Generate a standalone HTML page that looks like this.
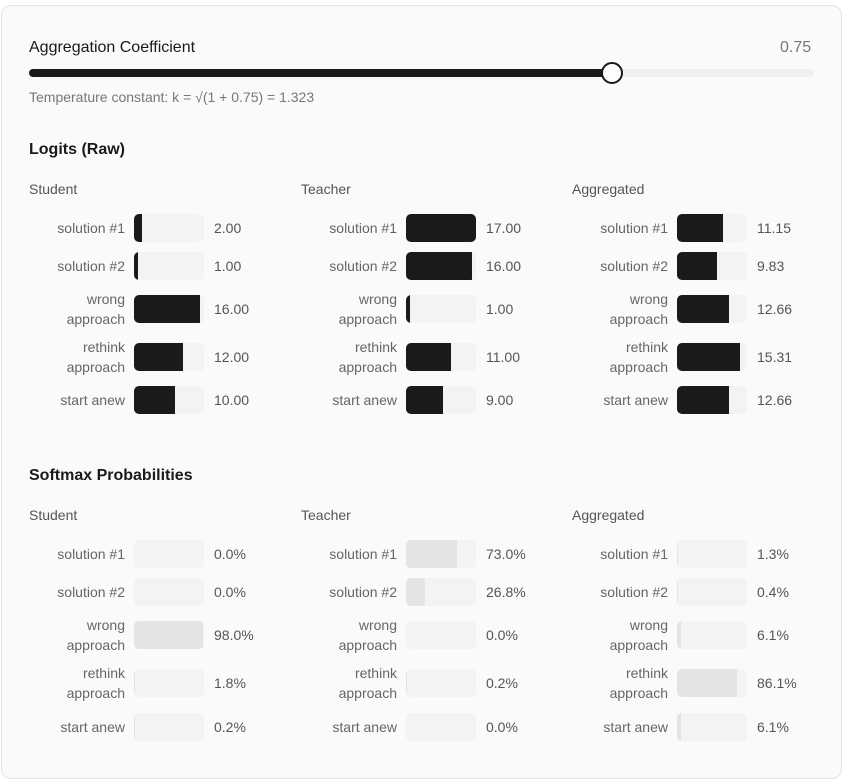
<!DOCTYPE html>
<html><head><meta charset="utf-8"><style>
*{margin:0;padding:0;box-sizing:border-box}
body{width:843px;height:783px;background:#fff;font-family:"Liberation Sans",sans-serif;position:relative;overflow:hidden}
.card{position:absolute;left:1px;top:5px;width:841px;height:774px;background:#fafafa;border:1px solid #e4e4e4;border-radius:10px}
.t{position:absolute;white-space:nowrap}
.r{position:absolute;height:28px;width:260px}
.l{position:absolute;left:0;width:96px;height:28px;display:flex;align-items:center;justify-content:flex-end;text-align:right;font-size:14px;line-height:20px;color:#666}
.b{position:absolute;left:105px;top:0;width:70px;height:28px;background:#f3f3f3;border-radius:5px;overflow:hidden}
.b i{position:absolute;left:0;top:0;bottom:0;background:#1a1a1a;min-width:1px}
.p i{background:#e4e4e4}
.v{position:absolute;left:185px;top:0;height:28px;line-height:28px;font-size:14px;color:#555}
.h{font-size:14px;color:#555}
.s{font-size:16px;font-weight:bold;color:#1a1a1a}
</style></head><body>
<div class="card"></div>
<div class="t" style="left:29px;top:39px;font-size:16px;color:#1a1a1a">Aggregation Coefficient</div>
<div class="t" style="left:780px;top:39px;font-size:16px;color:#777">0.75</div>
<div style="position:absolute;left:29px;top:69px;width:785px;height:8px;background:#f1f1f1;border-radius:4px"></div>
<div style="position:absolute;left:29px;top:69px;width:585px;height:8px;background:#1a1a1a;border-radius:4px"></div>
<div style="position:absolute;left:601px;top:62px;width:22px;height:22px;background:#fff;border:2px solid #1a1a1a;border-radius:50%"></div>
<div class="t" style="left:29px;top:89px;font-size:14px;color:#777">Temperature constant: k = √(1 + 0.75) = 1.323</div>

<div class="t s" style="left:29px;top:141px">Logits (Raw)</div>
<div class="t h" style="left:29px;top:181px">Student</div>
<div class="t h" style="left:301px;top:181px">Teacher</div>
<div class="t h" style="left:572px;top:181px">Aggregated</div>

<div class="r" style="left:29px;top:214px"><div class="l">solution #1</div><div class="b"><i style="width:8px"></i></div><div class="v">2.00</div></div>
<div class="r" style="left:29px;top:252px"><div class="l">solution #2</div><div class="b"><i style="width:4px"></i></div><div class="v">1.00</div></div>
<div class="r" style="left:29px;top:295px"><div class="l">wrong<br>approach</div><div class="b"><i style="width:66px"></i></div><div class="v">16.00</div></div>
<div class="r" style="left:29px;top:343px"><div class="l">rethink<br>approach</div><div class="b"><i style="width:49px"></i></div><div class="v">12.00</div></div>
<div class="r" style="left:29px;top:386px"><div class="l">start anew</div><div class="b"><i style="width:41px"></i></div><div class="v">10.00</div></div>

<div class="r" style="left:301px;top:214px"><div class="l">solution #1</div><div class="b"><i style="width:70px"></i></div><div class="v">17.00</div></div>
<div class="r" style="left:301px;top:252px"><div class="l">solution #2</div><div class="b"><i style="width:66px"></i></div><div class="v">16.00</div></div>
<div class="r" style="left:301px;top:295px"><div class="l">wrong<br>approach</div><div class="b"><i style="width:4px"></i></div><div class="v">1.00</div></div>
<div class="r" style="left:301px;top:343px"><div class="l">rethink<br>approach</div><div class="b"><i style="width:45px"></i></div><div class="v">11.00</div></div>
<div class="r" style="left:301px;top:386px"><div class="l">start anew</div><div class="b"><i style="width:37px"></i></div><div class="v">9.00</div></div>

<div class="r" style="left:572px;top:214px"><div class="l">solution #1</div><div class="b"><i style="width:46px"></i></div><div class="v">11.15</div></div>
<div class="r" style="left:572px;top:252px"><div class="l">solution #2</div><div class="b"><i style="width:40px"></i></div><div class="v">9.83</div></div>
<div class="r" style="left:572px;top:295px"><div class="l">wrong<br>approach</div><div class="b"><i style="width:52px"></i></div><div class="v">12.66</div></div>
<div class="r" style="left:572px;top:343px"><div class="l">rethink<br>approach</div><div class="b"><i style="width:63px"></i></div><div class="v">15.31</div></div>
<div class="r" style="left:572px;top:386px"><div class="l">start anew</div><div class="b"><i style="width:52px"></i></div><div class="v">12.66</div></div>

<div class="t s" style="left:29px;top:467px">Softmax Probabilities</div>
<div class="t h" style="left:29px;top:507px">Student</div>
<div class="t h" style="left:301px;top:507px">Teacher</div>
<div class="t h" style="left:572px;top:507px">Aggregated</div>

<div class="r" style="left:29px;top:540px"><div class="l">solution #1</div><div class="b p"><i style="width:0;min-width:0"></i></div><div class="v">0.0%</div></div>
<div class="r" style="left:29px;top:578px"><div class="l">solution #2</div><div class="b p"><i style="width:0;min-width:0"></i></div><div class="v">0.0%</div></div>
<div class="r" style="left:29px;top:621px"><div class="l">wrong<br>approach</div><div class="b p"><i style="width:69px"></i></div><div class="v">98.0%</div></div>
<div class="r" style="left:29px;top:669px"><div class="l">rethink<br>approach</div><div class="b p"><i style="width:1px"></i></div><div class="v">1.8%</div></div>
<div class="r" style="left:29px;top:713px"><div class="l">start anew</div><div class="b p"><i style="width:1px"></i></div><div class="v">0.2%</div></div>

<div class="r" style="left:301px;top:540px"><div class="l">solution #1</div><div class="b p"><i style="width:51px"></i></div><div class="v">73.0%</div></div>
<div class="r" style="left:301px;top:578px"><div class="l">solution #2</div><div class="b p"><i style="width:19px"></i></div><div class="v">26.8%</div></div>
<div class="r" style="left:301px;top:621px"><div class="l">wrong<br>approach</div><div class="b p"><i style="width:0;min-width:0"></i></div><div class="v">0.0%</div></div>
<div class="r" style="left:301px;top:669px"><div class="l">rethink<br>approach</div><div class="b p"><i style="width:1px"></i></div><div class="v">0.2%</div></div>
<div class="r" style="left:301px;top:713px"><div class="l">start anew</div><div class="b p"><i style="width:0;min-width:0"></i></div><div class="v">0.0%</div></div>

<div class="r" style="left:572px;top:540px"><div class="l">solution #1</div><div class="b p"><i style="width:1px"></i></div><div class="v">1.3%</div></div>
<div class="r" style="left:572px;top:578px"><div class="l">solution #2</div><div class="b p"><i style="width:1px"></i></div><div class="v">0.4%</div></div>
<div class="r" style="left:572px;top:621px"><div class="l">wrong<br>approach</div><div class="b p"><i style="width:4px"></i></div><div class="v">6.1%</div></div>
<div class="r" style="left:572px;top:669px"><div class="l">rethink<br>approach</div><div class="b p"><i style="width:60px"></i></div><div class="v">86.1%</div></div>
<div class="r" style="left:572px;top:713px"><div class="l">start anew</div><div class="b p"><i style="width:4px"></i></div><div class="v">6.1%</div></div>
</body></html>
